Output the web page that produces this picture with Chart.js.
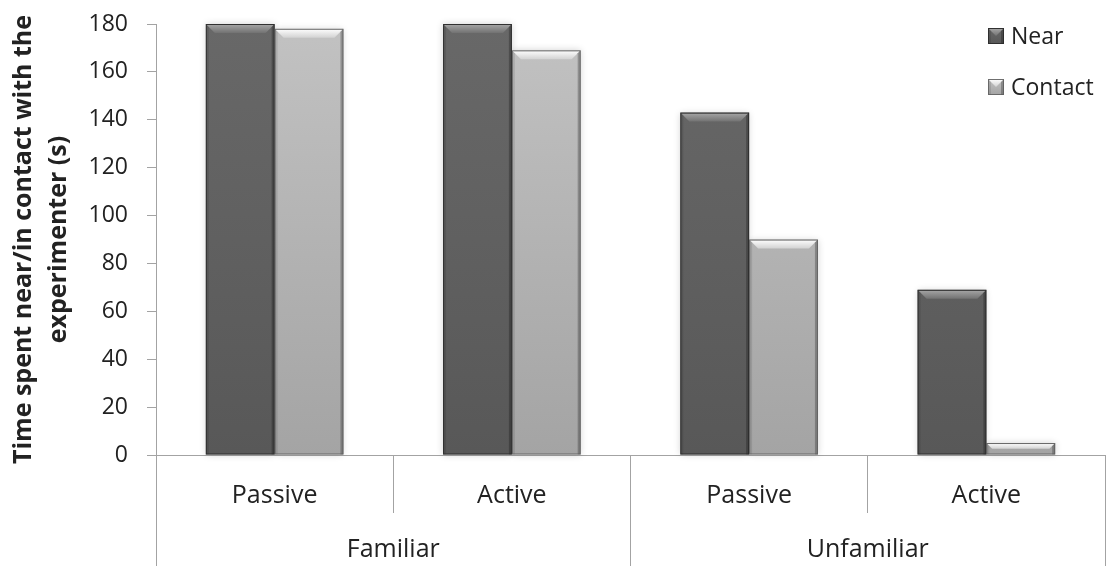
<!DOCTYPE html>
<html>
<head>
<meta charset="utf-8">
<script src="https://cdn.jsdelivr.net/npm/chart.js@4.4.0/dist/chart.umd.min.js"></script>
<style>
  html, body { margin: 0; padding: 0; background: #ffffff; }
  #wrap { width: 1110px; height: 566px; }
</style>
</head>
<body>
<div id="wrap"><canvas id="chart" width="1110" height="566"></canvas></div>
<script>
// Conditions along the x axis and the familiarity groups beneath them
const conditions = ['Passive', 'Active', 'Passive', 'Active'];
const groups = ['Familiar', 'Unfamiliar'];

// Seconds spent near / in contact with the experimenter
const nearValues = [180, 180, 143, 69];
const contactValues = [178, 169, 90, 5];

// Y axis ticks and title
const yTickValues = [0, 20, 40, 60, 80, 100, 120, 140, 160, 180];
const yAxisTitle = ['Time spent near/in contact with the', 'experimenter (s)'];

const FONT = 'Open Sans';
const TEXT = '#222222';
const LINE = '#a3a3a3';

// Bevelled bar look for each series
const barStyles = {
  Near: {
    bodyTop: '#686868', bodyBottom: '#585858',
    bevelTop: '#a8a8a8', bevelBottom: '#727272',
    edge: 'rgba(40,40,40,0.85)'
  },
  Contact: {
    bodyTop: '#c2c2c2', bodyBottom: '#a4a4a4',
    bevelTop: '#ffffff', bevelBottom: '#d2d2d2',
    edge: 'rgba(90,90,90,0.8)'
  }
};

function verticalFill(top, bottom) {
  return (c) => {
    const area = c.chart.chartArea;
    if (!area) return top;
    const g = c.chart.ctx.createLinearGradient(0, area.top, 0, area.bottom);
    g.addColorStop(0, top);
    g.addColorStop(1, bottom);
    return g;
  };
}

// Soft halo behind each bar
const barShadow = {
  id: 'barShadow',
  beforeDatasetsDraw(chart) {
    const ctx = chart.ctx;
    ctx.save();
    chart.data.datasets.forEach((ds, i) => {
      const meta = chart.getDatasetMeta(i);
      meta.data.forEach((bar) => {
        const p = bar.getProps(['x', 'y', 'width', 'base'], true);
        ctx.shadowColor = 'rgba(0,0,0,0.18)';
        ctx.shadowBlur = 7;
        ctx.fillStyle = '#ffffff';
        ctx.fillRect(p.x - p.width / 2, p.y, p.width, p.base - p.y);
      });
    });
    ctx.restore();
  }
};

function drawBevel(ctx, l, r, t, b, st) {
  const h = b - t;
  const bv = Math.min(9, h / 2);
  const side = Math.min(3, h / 2);
  // top bevel face
  const g = ctx.createLinearGradient(0, t, 0, t + bv);
  g.addColorStop(0, st.bevelTop);
  g.addColorStop(1, st.bevelBottom);
  ctx.fillStyle = g;
  ctx.beginPath();
  ctx.moveTo(l + 1, t + 1);
  ctx.lineTo(r - 1, t + 1);
  ctx.lineTo(r - bv, t + bv);
  ctx.lineTo(l + bv, t + bv);
  ctx.closePath();
  ctx.fill();
  // left face
  ctx.fillStyle = 'rgba(0,0,0,0.10)';
  ctx.beginPath();
  ctx.moveTo(l, t);
  ctx.lineTo(l + side, t + side);
  ctx.lineTo(l + side, b);
  ctx.lineTo(l, b);
  ctx.closePath();
  ctx.fill();
  // right face
  ctx.fillStyle = 'rgba(0,0,0,0.25)';
  ctx.beginPath();
  ctx.moveTo(r, t);
  ctx.lineTo(r - side, t + side);
  ctx.lineTo(r - side, b);
  ctx.lineTo(r, b);
  ctx.closePath();
  ctx.fill();
  // outline
  ctx.strokeStyle = st.edge;
  ctx.lineWidth = 1;
  ctx.strokeRect(l + 0.5, t + 0.5, r - l - 1, b - t - 1);
}

const bevel = {
  id: 'bevel',
  afterDatasetsDraw(chart) {
    const ctx = chart.ctx;
    ctx.save();
    chart.data.datasets.forEach((ds, i) => {
      const meta = chart.getDatasetMeta(i);
      if (meta.hidden) return;
      const st = barStyles[ds.label];
      meta.data.forEach((bar) => {
        const p = bar.getProps(['x', 'y', 'width', 'base'], true);
        drawBevel(ctx, p.x - p.width / 2, p.x + p.width / 2, p.y, p.base, st);
      });
    });
    ctx.restore();
  }
};

// Legend in the top right corner of the plot
const cornerLegend = {
  id: 'cornerLegend',
  afterDraw(chart) {
    const ctx = chart.ctx;
    const area = chart.chartArea;
    const x0 = area.right - 117;
    const rows = [area.top + 12, area.top + 63];
    ctx.save();
    chart.data.datasets.forEach((ds, i) => {
      const st = barStyles[ds.label];
      const cy = rows[i];
      const s = 16;
      const g = ctx.createLinearGradient(0, cy - s / 2, 0, cy + s / 2);
      g.addColorStop(0, st.bodyTop);
      g.addColorStop(1, st.bodyBottom);
      ctx.fillStyle = g;
      ctx.fillRect(x0, cy - s / 2, s, s);
      drawBevel(ctx, x0, x0 + s, cy - s / 2, cy + s / 2, st);
      ctx.fillStyle = TEXT;
      ctx.font = '23px "' + FONT + '"';
      ctx.textAlign = 'left';
      ctx.textBaseline = 'middle';
      ctx.fillText(ds.label, x0 + 23, cy + 1);
    });
    ctx.restore();
  }
};

new Chart(document.getElementById('chart'), {
  type: 'bar',
  data: {
    labels: conditions,
    datasets: [
      {
        label: 'Near',
        data: nearValues,
        backgroundColor: verticalFill(barStyles.Near.bodyTop, barStyles.Near.bodyBottom),
        borderWidth: 0,
        xAxisID: 'x'
      },
      {
        label: 'Contact',
        data: contactValues,
        backgroundColor: verticalFill(barStyles.Contact.bodyTop, barStyles.Contact.bodyBottom),
        borderWidth: 0,
        xAxisID: 'x'
      }
    ]
  },
  options: {
    responsive: false,
    animation: false,
    devicePixelRatio: 1,
    layout: { padding: { top: 24, right: 5, left: 0, bottom: 0 } },
    datasets: { bar: { categoryPercentage: 0.58, barPercentage: 1.0 } },
    plugins: {
      legend: { display: false },
      tooltip: { enabled: false }
    },
    scales: {
      x: {
        type: 'category',
        position: 'bottom',
        weight: 0,
        offset: true,
        grid: { offset: true, drawOnChartArea: false, tickLength: 58, color: LINE, lineWidth: 1 },
        border: { display: true, color: LINE, width: 1 },
        ticks: { padding: -32, color: TEXT, font: { family: FONT, size: 25 }, maxRotation: 0, autoSkip: false },
        afterFit(s) { s.height = 58; }
      },
      x2: {
        type: 'category',
        position: 'bottom',
        weight: 1,
        labels: groups,
        offset: true,
        grid: { offset: true, drawOnChartArea: false, tickLength: 60, color: LINE, lineWidth: 1 },
        border: { display: false },
        ticks: { padding: -38, color: TEXT, font: { family: FONT, size: 25 }, maxRotation: 0, autoSkip: false },
        afterFit(s) { s.height = 53; }
      },
      y: {
        type: 'linear',
        min: 0,
        max: 180,
        afterBuildTicks(s) { s.ticks = yTickValues.map(v => ({ value: v })); },
        grid: { drawOnChartArea: false, tickLength: 9, color: LINE },
        border: { display: true, color: LINE },
        ticks: { padding: 19, color: TEXT, font: { family: FONT, size: 23 } },
        title: {
          display: true,
          text: yAxisTitle,
          color: TEXT,
          font: { family: FONT, size: 25, weight: 'bold', lineHeight: 1.4 },
          padding: { top: 6, bottom: 0 }
        },
        afterFit(s) {
          s.width = 156;
          s.paddingTop = 0;
          s.paddingBottom = 0;
        }
      }
    }
  },
  plugins: [barShadow, bevel, cornerLegend]
});
</script>
</body>
</html>
